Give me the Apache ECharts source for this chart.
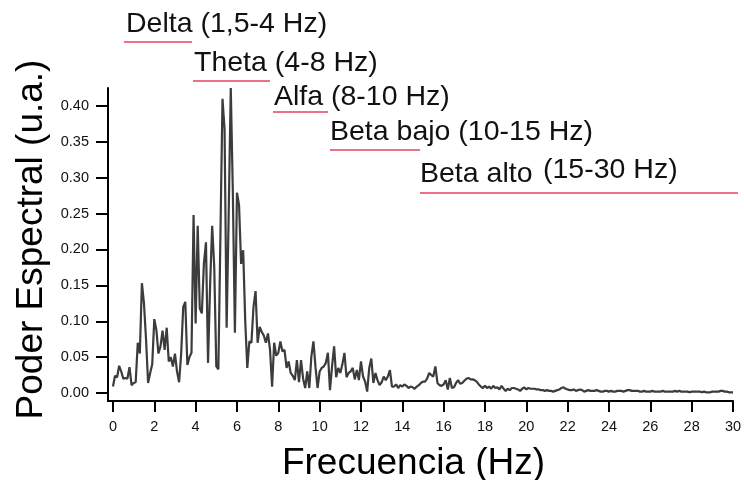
<!DOCTYPE html>
<html><head><meta charset="utf-8">
<script src="https://cdn.jsdelivr.net/npm/echarts@6/dist/echarts.min.js"></script>
<style>html,body{margin:0;padding:0;background:#fff}#c{width:744px;height:480px}</style>
</head><body><div id="c"></div>
<script>
// spectral bin width (Hz)
const FREQ_STEP = 0.1;
// spectral power, one value per 0.1 Hz bin from 0 to 30 Hz
const power = [
  0.009,0.024,0.022,0.038,0.030,0.020,0.021,0.020,0.036,0.011,
  0.014,0.015,0.070,0.055,0.153,0.125,0.075,0.014,0.028,0.040,
  0.103,0.088,0.055,0.065,0.087,0.060,0.091,0.044,0.050,0.037,
  0.055,0.030,0.015,0.055,0.120,0.127,0.039,0.050,0.056,0.248,
  0.097,0.233,0.118,0.111,0.180,0.210,0.042,0.150,0.233,0.176,
  0.037,0.033,0.220,0.410,0.367,0.091,0.250,0.425,0.280,0.084,
  0.279,0.262,0.180,0.199,0.100,0.035,0.072,0.070,0.120,0.142,
  0.070,0.092,0.085,0.080,0.070,0.083,0.060,0.009,0.070,0.052,
  0.056,0.072,0.058,0.060,0.035,0.044,0.028,0.024,0.018,0.046,
  0.015,0.046,0.020,0.007,0.030,0.007,0.051,0.072,0.036,0.007,
  0.030,0.035,0.037,0.042,0.056,0.004,0.037,0.065,0.022,0.035,
  0.028,0.040,0.056,0.022,0.028,0.030,0.035,0.019,0.032,0.018,
  0.044,0.023,0.016,0.002,0.035,0.048,0.014,0.028,0.018,0.011,
  0.015,0.023,0.018,0.023,0.032,0.009,0.009,0.012,0.007,0.011,
  0.009,0.012,0.010,0.007,0.009,0.008,0.006,0.009,0.011,0.014,
  0.016,0.016,0.020,0.028,0.025,0.023,0.037,0.014,0.011,0.010,
  0.012,0.018,0.005,0.021,0.007,0.008,0.014,0.018,0.013,0.014,
  0.017,0.020,0.021,0.019,0.019,0.018,0.016,0.012,0.009,0.007,
  0.010,0.007,0.009,0.006,0.010,0.007,0.008,0.005,0.010,0.006,
  0.003,0.006,0.004,0.007,0.007,0.006,0.005,0.003,0.006,0.008,
  0.005,0.007,0.006,0.006,0.006,0.005,0.005,0.004,0.004,0.003,
  0.004,0.003,0.003,0.002,0.003,0.004,0.005,0.007,0.008,0.006,
  0.005,0.004,0.004,0.005,0.003,0.004,0.005,0.004,0.002,0.003,
  0.004,0.003,0.003,0.003,0.004,0.003,0.002,0.002,0.003,0.003,
  0.002,0.003,0.002,0.002,0.003,0.003,0.003,0.002,0.003,0.004,
  0.004,0.003,0.003,0.003,0.003,0.002,0.002,0.003,0.002,0.002,
  0.002,0.003,0.002,0.002,0.002,0.002,0.003,0.002,0.002,0.002,
  0.002,0.002,0.003,0.002,0.003,0.002,0.002,0.002,0.002,0.001,
  0.002,0.002,0.002,0.002,0.002,0.001,0.002,0.001,0.001,0.001,
  0.002,0.002,0.002,0.002,0.003,0.003,0.002,0.002,0.001,0.001,
  0.001
];
const xTicks = [0,2,4,6,8,10,12,14,16,18,20,22,24,26,28,30];
const yTicks = [0,0.05,0.10,0.15,0.20,0.25,0.30,0.35,0.40];
const bandNames = ['Delta','Theta','Alfa','Beta bajo','Beta alto'];
const bandRanges = ['(1,5-4 Hz)','(4-8 Hz)','(8-10 Hz)','(10-15 Hz)','(15-30 Hz)'];
const xTitle = 'Frecuencia (Hz)';
const yTitle = 'Poder Espectral (u.a.)';

const FONT = '"Liberation Sans", Arial, sans-serif';
const RED = '#e6425c';
// layout of band annotations (pixels): name left, name middle y, range left, range middle y, underline x0, x1, y
const bandLayout = [
  {tx:126, ty:24, rx:null, ry:24, lx0:124, lx1:192, ly:42},
  {tx:194, ty:63, rx:null, ry:63, lx0:193, lx1:270, ly:81},
  {tx:274, ty:97, rx:null, ry:97, lx0:273, lx1:328, ly:112},
  {tx:330, ty:132, rx:null, ry:132, lx0:330, lx1:420, ly:150},
  {tx:420, ty:174, rx:543, ry:170, lx0:420, lx1:738, ly:193}
];
const BAND_FONT = '28.5px ' + FONT;
const graphics = [];
bandNames.forEach((n, i) => {
  const L = bandLayout[i];
  if (L.rx === null) {
    graphics.push({type:'text', x:L.tx, y:L.ty, style:{text: n + ' ' + bandRanges[i], font:BAND_FONT, fill:'#111', verticalAlign:'middle'}});
  } else {
    graphics.push({type:'text', x:L.tx, y:L.ty, style:{text: n, font:BAND_FONT, fill:'#111', verticalAlign:'middle'}});
    graphics.push({type:'text', x:L.rx, y:L.ry, style:{text: bandRanges[i], font:BAND_FONT, fill:'#111', verticalAlign:'middle'}});
  }
  graphics.push({type:'line', shape:{x1:L.lx0, y1:L.ly, x2:L.lx1, y2:L.ly}, style:{stroke:RED, lineWidth:1.5}});
});

const chart = echarts.init(document.getElementById('c'), null, {renderer:'canvas'});
chart.setOption({
  backgroundColor:'#fff',
  animation:false,
  grid:{left:108, right:11, top:88, bottom:79, containLabel:false, outerBoundsMode:'none'},
  xAxis:{
    type:'value', min:-0.24, max:30,
    axisLine:{show:true, onZero:false, lineStyle:{color:'#000', width:2}},
    axisTick:{show:true, customValues:xTicks, length:11, inside:false, lineStyle:{color:'#000', width:2}},
    axisLabel:{show:true, customValues:xTicks, margin:18, fontSize:14.5, color:'#111', fontFamily:FONT},
    splitLine:{show:false},
    name:xTitle, nameLocation:'middle', nameGap:44,
    nameTextStyle:{fontSize:37, color:'#000', fontFamily:FONT, padding:[0,14,0,0]}
  },
  yAxis:{
    type:'value', min:-0.0111, max:0.425,
    axisLine:{show:true, onZero:false, lineStyle:{color:'#000', width:2}},
    axisTick:{show:true, customValues:yTicks, length:12, lineStyle:{color:'#000', width:2}},
    axisLabel:{show:true, customValues:yTicks, margin:19, fontSize:14.5, color:'#111', fontFamily:FONT,
      formatter:v => v.toFixed(2)},
    splitLine:{show:false},
    name:yTitle, nameLocation:'middle', nameGap:58,
    nameTextStyle:{fontSize:37, color:'#000', fontFamily:FONT, padding:[0,0,0,10]}
  },
  graphic:graphics,
  series:[{
    type:'line',
    data:power.map((v, i) => [+(i * FREQ_STEP).toFixed(1), v]),
    showSymbol:false, symbol:'none',
    lineStyle:{color:'#3c3c3c', width:2.2},
    clip:false
  }]
});
</script></body></html>
